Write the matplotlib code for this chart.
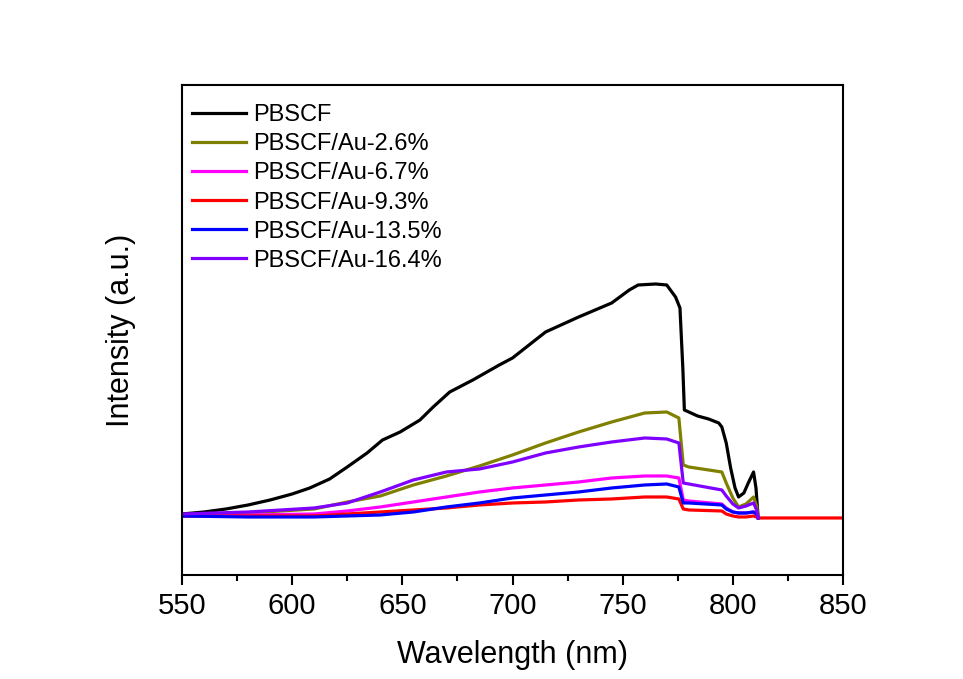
import matplotlib
matplotlib.use('Agg')
import matplotlib.pyplot as plt
from matplotlib.ticker import MultipleLocator

plt.rcParams['font.family'] = ['Liberation Sans', 'DejaVu Sans']

# PBSCF (black)
bk_wl = [550, 560, 570, 580, 590, 600, 608, 617, 625, 634, 641, 649, 658, 664, 671.5,
         682, 694, 700, 715, 730, 745, 753, 757, 765, 770, 774, 776, 777.3, 778, 784,
         789, 793.6, 795, 797, 799, 801, 802.6, 805, 807, 809.4, 810.5, 811.5]
bk_i = [4, 6, 9, 13, 18, 24, 30, 39, 51, 65, 78, 86, 98, 111, 126,
        138, 153, 160, 186, 201, 215, 228, 233, 234, 233, 221, 210, 150, 108, 102,
        99, 95, 91, 75, 50, 30, 21, 25, 35, 46, 30, 0]

# Au loaded samples, common wavelength grid
wl = [550, 580, 610, 625, 640, 655, 670, 685, 700, 715, 730, 745, 760, 770, 775.5,
      777.5, 780, 795, 797, 800, 802.6, 806, 809.4, 810.8, 811.5]
au26 = [3, 5, 9, 16, 22, 33, 42, 52, 63, 75, 86, 96, 105, 106, 100,
        53, 51, 46, 35, 20, 11, 14, 21, 12, 0]
au67 = [2, 3, 4, 7, 11, 16, 21, 26, 30, 33, 36, 40, 42, 42, 40,
        18, 17, 14, 10, 6, 5, 5, 6, 4, 0]
au93 = [2, 2, 2, 4, 6, 8, 10, 13, 15, 16, 18, 19, 21, 21, 19,
        9, 8, 7, 4, 2, 1, 1, 2, 1, 0]
au135 = [2, 1, 1, 2, 3, 6, 11, 15, 20, 23, 26, 30, 33, 34, 31,
         15, 15, 13, 9, 6, 5, 5, 6, 4, 0]
au164 = [4, 6, 10, 15, 26, 38, 46, 49, 56, 65, 71, 76, 80, 79, 75,
         35, 34, 28, 22, 14, 10, 12, 15, 8, 0]

labels = ['PBSCF', 'PBSCF/Au-2.6%', 'PBSCF/Au-6.7%', 'PBSCF/Au-9.3%',
          'PBSCF/Au-13.5%', 'PBSCF/Au-16.4%']
colors = ['#000000', '#808000', '#ff00ff', '#ff0000', '#0000ff', '#8000ff']

fig = plt.figure(figsize=(9.63, 6.79), dpi=100)
ax = fig.add_axes([0.189, 0.1532, 0.6864, 0.7216])

lw = 2.3
ax.plot(bk_wl, bk_i, color=colors[0], lw=lw, label=labels[0])
ax.plot(wl, au26, color=colors[1], lw=lw, label=labels[1])
ax.plot(wl, au67, color=colors[2], lw=lw, label=labels[2])
ax.plot(wl + [850], au93 + [0], color=colors[3], lw=lw, label=labels[3])
ax.plot(wl, au135, color=colors[4], lw=lw, label=labels[4])
ax.plot(wl, au164, color=colors[5], lw=lw, label=labels[5])

ax.set_xlim(550, 850)
ax.set_ylim(-57, 433)
ax.xaxis.set_major_locator(MultipleLocator(50))
ax.xaxis.set_minor_locator(MultipleLocator(25))
ax.tick_params(axis='x', which='major', direction='out', length=7, width=1.5,
               labelsize=21, pad=5, top=False)
ax.tick_params(axis='x', which='minor', direction='out', length=4, width=1.5, top=False)
ax.set_yticks([])
for s in ax.spines.values():
    s.set_linewidth(1.5)

ax.set_xlabel('Wavelength (nm)', fontsize=22, labelpad=15)
ax.set_ylabel('Intensity (a.u.)', fontsize=22, labelpad=33)

ax.legend(loc='upper left', frameon=False, fontsize=17, handlelength=2.3,
          handletextpad=0.3, labelspacing=0.3, borderaxespad=0.0,
          bbox_to_anchor=(0.001, 0.980))

fig.savefig('out.png', dpi=100)
